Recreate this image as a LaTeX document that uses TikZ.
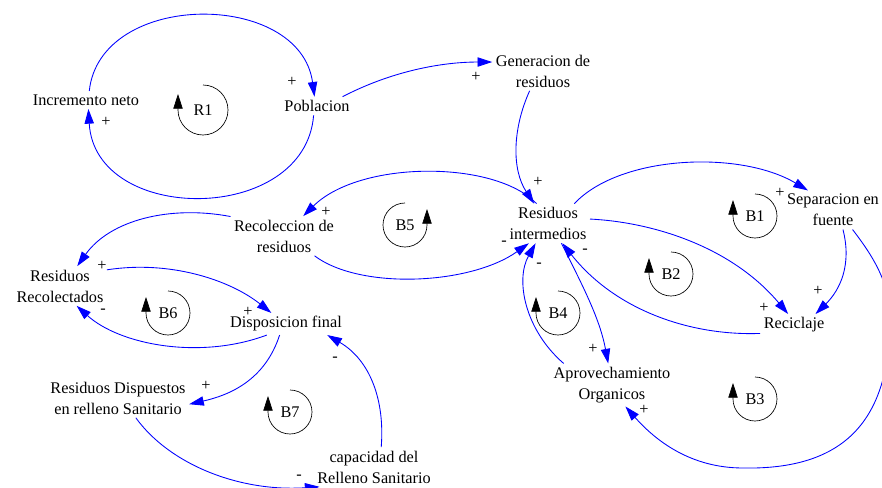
\documentclass[tikz,border=0pt]{standalone}
\usepackage{fontspec}
\setmainfont{Liberation Serif}
\usetikzlibrary{arrows.meta}
\begin{document}
\begin{tikzpicture}[>={Triangle[length=11bp,width=7bp]},line join=bevel,
  font=\fontsize{12.2bp}{15.75bp}\selectfont,
  var/.style={align=center,inner sep=2.5bp},
  sign/.style={inner sep=0bp},
  link/.style={blue,line width=0.65bp,->},
  loopmark/.style={black,line width=0.5bp,->}]
%%
\useasboundingbox (0bp,0bp) rectangle (661.5bp,366bp);
\node (incremento_neto) at (64.5bp,291bp) [var] {Incremento neto};
  \node (poblacion) at (237.75bp,286.5bp) [var] {Poblacion};
  \node (generacion) at (407.25bp,312.75bp) [var] {Generacion de\\residuos};
  \node (residuos_intermedios) at (411bp,198.4bp) [var] {Residuos\\intermedios};
  \node (separacion) at (624.75bp,208.5bp) [var] {Separacion en\\fuente};
  \node (recoleccion) at (213bp,189bp) [var] {Recoleccion de\\residuos};
  \node (residuos_recolectados) at (45bp,151.5bp) [var] {Residuos\\Recolectados};
  \node (disposicion) at (214.5bp,123bp) [var] {Disposicion final};
  \node (reciclaje) at (595.5bp,122.25bp) [var] {Reciclaje};
  \node (aprovechamiento) at (459bp,77.25bp) [var] {Aprovechamiento\\Organicos};
  \node (residuos_dispuestos) at (88.5bp,67.5bp) [var] {Residuos Dispuestos\\en relleno Sanitario};
  \node (capacidad) at (280.5bp,15.75bp) [var] {capacidad del\\Relleno Sanitario};
%
\draw [link] (incremento_neto.70) ..controls (75bp,373.5bp) and (225bp,373.5bp)  .. (poblacion.105);
  \draw [link] (poblacion.250) ..controls (228.75bp,197.25bp) and (71.25bp,197.25bp)  .. (incremento_neto.285);
  \draw [link] (poblacion.20) ..controls (292.5bp,312bp) and (330bp,319.5bp)  .. (generacion.170);
  \draw [link] (generacion.236) ..controls (384bp,268.5bp) and (384bp,238.5bp)  .. (residuos_intermedios.125);
  \draw [link] (residuos_intermedios.120) ..controls (371.25bp,246bp) and (270bp,246bp)  .. (recoleccion.46);
  \draw [link] (recoleccion.327) ..controls (270bp,148.5bp) and (352.5bp,152.25bp)  .. (residuos_intermedios.226);
  \draw [link] (residuos_intermedios.37) ..controls (465bp,249.75bp) and (555bp,253.5bp)  .. (separacion.142);
  \draw [link] (residuos_intermedios.6) ..controls (487.5bp,199.5bp) and (547.5bp,182.25bp)  .. (reciclaje.118);
  \draw [link] (reciclaje.194) ..controls (517.5bp,114bp) and (461.25bp,133.5bp)  .. (residuos_intermedios.306);
  \draw [link] (residuos_intermedios.304) ..controls (438.75bp,148.5bp) and (450bp,126bp)  .. (aprovechamiento.100);
  \draw [link] (aprovechamiento.156) ..controls (393.75bp,118.5bp) and (386.25bp,156bp)  .. (residuos_intermedios.238);
  \draw [link] (separacion.297) ..controls (639bp,167.25bp) and (630bp,148.5bp)  .. (reciclaje.27);
  \draw [link] (separacion.315) ..controls (654bp,174.75bp) and (667.5bp,154.5bp)  .. (667.5bp,127.5bp)
    ..controls (667.5bp,51bp) and (633.75bp,13.5bp)  .. (557.25bp,15bp)
    ..controls (517.5bp,15bp) and (491.25bp,36bp)  .. (aprovechamiento.302);
  \draw [link] (recoleccion.160) ..controls (127.5bp,212.25bp) and (82.5bp,201bp)  .. (residuos_recolectados.49);
  \draw [link] (residuos_recolectados.19) ..controls (127.5bp,171bp) and (172.5bp,156bp)  .. (disposicion.143);
  \draw [link] (disposicion.210) ..controls (150bp,96bp) and (90bp,107.25bp)  .. (residuos_recolectados.310);
  \draw [link] (disposicion.240) ..controls (198.75bp,81bp) and (172.5bp,69.75bp)  .. (residuos_dispuestos.355);
  \draw [link] (residuos_dispuestos.312) ..controls (127.5bp,17.25bp) and (180bp,-3bp)  .. (capacidad.200);
  \draw [link] (capacidad.70) ..controls (288.75bp,66bp) and (277.5bp,96bp)  .. (disposicion.345);
%
\node (sg_inc_pob) at (219bp,304.5bp) [sign] {+};
  \node (sg_pob_inc) at (79.5bp,274.5bp) [sign] {+};
  \node (sg_pob_gen) at (357bp,308.25bp) [sign] {+};
  \node (sg_gen_int) at (403.5bp,229.5bp) [sign] {+};
  \node (sg_int_rec) at (244.5bp,207bp) [sign] {+};
  \node (sg_rec_int) at (378bp,183.75bp) [sign] {-};
  \node (sg_int_sep) at (585bp,221.25bp) [sign] {+};
  \node (sg_int_cic) at (573bp,135bp) [sign] {+};
  \node (sg_cic_int) at (438.75bp,177.75bp) [sign] {-};
  \node (sg_int_apr) at (444.75bp,104.25bp) [sign] {+};
  \node (sg_apr_int) at (404.25bp,167.25bp) [sign] {-};
  \node (sg_sep_cic) at (613.5bp,147.75bp) [sign] {+};
  \node (sg_sep_apr) at (483bp,58.5bp) [sign] {+};
  \node (sg_rec_rr) at (76.5bp,166.5bp) [sign] {+};
  \node (sg_rr_dis) at (186bp,132bp) [sign] {+};
  \node (sg_dis_rr) at (77.25bp,132.75bp) [sign] {-};
  \node (sg_dis_rd) at (154.5bp,76.5bp) [sign] {+};
  \node (sg_rd_cap) at (224.25bp,8.25bp) [sign] {-};
  \node (sg_cap_dis) at (251.25bp,96.75bp) [sign] {-};
%
\draw [loopmark] (152.25bp,302.25bp) arc [start angle=90,end angle=-180,radius=18.75bp] -- ++(0bp,12bp);
  \node (loop_r1) at (152.25bp,283.5bp) {R1};
  \draw [loopmark] (566.25bp,220.5bp) arc [start angle=90,end angle=-180,radius=16.5bp] -- ++(0bp,12bp);
  \node (loop_b1) at (566.25bp,204bp) {B1};
  \draw [loopmark] (503.25bp,177bp) arc [start angle=90,end angle=-180,radius=16.5bp] -- ++(0bp,12bp);
  \node (loop_b2) at (503.25bp,160.5bp) {B2};
  \draw [loopmark] (566.25bp,83.25bp) arc [start angle=90,end angle=-180,radius=16.5bp] -- ++(0bp,12bp);
  \node (loop_b3) at (566.25bp,66.75bp) {B3};
  \draw [loopmark] (418.5bp,147.75bp) arc [start angle=90,end angle=-180,radius=16.5bp] -- ++(0bp,12bp);
  \node (loop_b4) at (418.5bp,131.25bp) {B4};
  \draw [loopmark] (303.75bp,213.75bp) arc [start angle=90,end angle=360,radius=16.5bp] -- ++(0bp,12bp);
  \node (loop_b5) at (303.75bp,197.25bp) {B5};
  \draw [loopmark] (126bp,147.75bp) arc [start angle=90,end angle=-180,radius=16.5bp] -- ++(0bp,12bp);
  \node (loop_b6) at (126bp,131.25bp) {B6};
  \draw [loopmark] (217.5bp,73.5bp) arc [start angle=90,end angle=-180,radius=16.5bp] -- ++(0bp,12bp);
  \node (loop_b7) at (217.5bp,57bp) {B7};
%
\end{tikzpicture}
\end{document}
